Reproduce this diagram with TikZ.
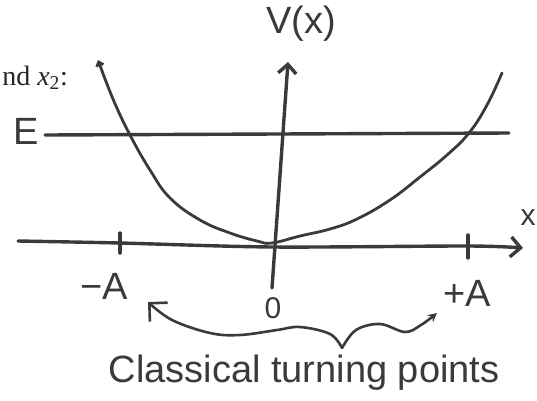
\documentclass[tikz,border=0pt]{standalone}
\usepackage{fontspec}
\newfontfamily\hand{Liberation Sans}
\newfontfamily\printed{Liberation Serif}
\usetikzlibrary{arrows.meta}
\definecolor{ink}{HTML}{3A3A3A}
\begin{document}
\begin{tikzpicture}[x=1pt,y=-1pt,line cap=round,line join=round,
  axis/.style={draw=ink,line width=3.4pt},
  curve/.style={draw=ink,line width=2.8pt},
  pointer/.style={draw=ink,line width=2.6pt},
  lbl/.style={text=ink,inner sep=0pt,font=\hand\fontsize{38}{40}\selectfont},
  small/.style={text=ink,inner sep=0pt,font=\hand\fontsize{30}{32}\selectfont},
  bigbarb/.style={-{Straight Barb[length=10pt,width=20pt]}},
  tinybarb/.style={-{Straight Barb[length=4pt,width=7pt]}}]
\useasboundingbox (0,0) rectangle (537,400);

% printed fragment of the running text
\node[text=black!85,inner sep=0pt,anchor=base east,font=\printed\fontsize{28}{30}\selectfont] (frag) at (68,85) {nd \textit{x}\textsubscript{2}:};

% labels
\node[lbl] (V) at (301,24) {V(x)};
\node[lbl] (E) at (26,131) {E};
\node[lbl] (mA) at (104,286) {−A};
\node[small] (zero) at (273,308) {0};
\node[lbl] (pA) at (467,293) {+A};
\node[small] (xl) at (528,218) {x};
\node[lbl] (ctp) at (304,373) {Classical turning points};

% axes
\coordinate (vb) at (272,288);
\coordinate (vt) at (288,62);
\draw[axis,-{Straight Barb[length=9pt,width=18pt]}] (vb) -- (vt);

\coordinate (xa) at (18,241);
\coordinate (xb) at (523,248);
\draw[axis,bigbarb] plot[smooth,tension=0.5] coordinates {(xa) (120,243) (273,247) (468,246) (xb)};

% ticks
\draw[axis] (120,233) -- (120,253);
\draw[axis] (468,235) -- (468,258);

% energy level
\coordinate (Es) at (45,135);
\coordinate (Ee) at (509,133);
\draw[axis] (Es) -- (Ee);

% potential curve
\draw[curve,tinybarb] plot[smooth,tension=0.7] coordinates {(502,73) (487,105) (469,133) (447,155) (420,177) (390,200) (357,219) (330,229) (300,236) (272,243) (257,241) (230,233) (200,220) (170,198) (150,170) (130,135) (113,99) (98,60)};

% pointers to the turning points
\coordinate (br) at (342,348);
\coordinate (tl) at (148,302);
\coordinate (tr) at (437,313);
\draw[pointer,-{Straight Barb[length=13pt,width=26pt]}] plot[smooth,tension=0.6] coordinates {(br) (330,334) (300,327) (277,330) (240,335) (210,333) (172,320) (tl)};
\draw[pointer,-{Stealth[length=9pt,width=9pt]}] plot[smooth,tension=0.6] coordinates {(br) (356,330) (380,324) (405,332) (421,325) (tr)};
\end{tikzpicture}
\end{document}
